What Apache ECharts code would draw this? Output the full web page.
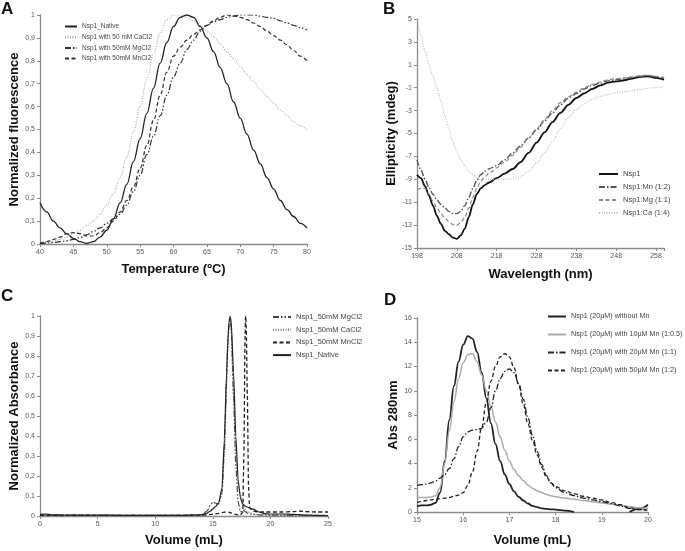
<!DOCTYPE html>
<html><head><meta charset="utf-8">
<script src="https://cdn.jsdelivr.net/npm/echarts@6/dist/echarts.min.js"></script>
<style>html,body{margin:0;padding:0;background:#fff}#c{width:685px;height:551px}</style>
</head><body><div id="c"></div>
<script>
// ---------- Panel A : thermal shift ----------
const A_temp = [40,41,42,43,44,45,46,47,48,49,50,51,52,53,54,55,56,57,58,59,60,61,62,63,64,65,66,67,68,69,70,71,72,73,74,75,76,77,78,79,80];
const A_native = [0.18,0.14,0.10,0.07,0.045,0.025,0.01,0.003,0.01,0.03,0.06,0.11,0.18,0.26,0.36,0.46,0.57,0.68,0.79,0.88,0.95,0.99,1.0,0.99,0.95,0.90,0.84,0.77,0.70,0.62,0.55,0.48,0.41,0.35,0.29,0.24,0.19,0.15,0.12,0.09,0.07];
const A_ca = [0.005,0.008,0.012,0.02,0.03,0.045,0.06,0.08,0.10,0.13,0.17,0.22,0.29,0.38,0.49,0.60,0.72,0.83,0.92,0.98,1.0,1.0,0.99,0.975,0.955,0.93,0.905,0.875,0.84,0.81,0.775,0.74,0.71,0.675,0.645,0.615,0.585,0.56,0.535,0.515,0.50];
const A_mg = [0.002,0.004,0.007,0.01,0.014,0.02,0.028,0.04,0.055,0.07,0.09,0.11,0.13,0.17,0.23,0.30,0.39,0.47,0.56,0.65,0.73,0.79,0.85,0.89,0.93,0.955,0.97,0.98,0.99,0.995,1.0,1.0,1.0,0.995,0.99,0.985,0.975,0.965,0.955,0.945,0.935];
const A_mn = [0.005,0.01,0.02,0.03,0.045,0.05,0.045,0.035,0.035,0.05,0.07,0.10,0.14,0.19,0.25,0.33,0.43,0.54,0.65,0.75,0.82,0.86,0.89,0.915,0.935,0.955,0.975,0.99,1.0,0.997,0.99,0.98,0.965,0.95,0.93,0.91,0.89,0.87,0.845,0.82,0.80];
const A_names = ['Nsp1_Native','Nsp1 with 50 mM CaCl2','Nsp1 with 50mM MgCl2','Nsp1 with 50mM MnCl2'];

// ---------- Panel B : CD spectra ----------
const B_wl = [198,199,200,201,202,203,204,205,206,207,208,209,210,211,212,213,214,215,216,218,220,222,224,226,228,230,232,234,236,238,240,242,244,246,248,250,252,254,256,258,260];
const B_nsp1 = [-8.6,-8.9,-9.6,-10.4,-11.3,-12.2,-12.9,-13.5,-13.8,-14.1,-14.2,-13.9,-13.3,-12.3,-11.2,-10.3,-9.8,-9.5,-9.3,-8.9,-8.5,-8.1,-7.5,-6.7,-5.8,-4.9,-4.0,-3.2,-2.5,-1.9,-1.5,-1.1,-0.8,-0.55,-0.45,-0.35,-0.2,-0.05,0.0,-0.15,-0.3];
const B_mn = [-7.3,-8.2,-9.0,-9.7,-10.3,-10.8,-11.2,-11.5,-11.8,-12.0,-12.0,-11.8,-11.3,-10.6,-9.8,-9.1,-8.6,-8.3,-8.1,-7.8,-7.3,-6.7,-6.1,-5.4,-4.7,-3.9,-3.2,-2.5,-1.9,-1.5,-1.1,-0.8,-0.6,-0.4,-0.3,-0.2,-0.1,0.0,0.05,-0.05,-0.2];
const B_mg = [-9.9,-9.8,-9.8,-10.3,-10.9,-11.5,-12.0,-12.4,-12.7,-12.95,-13.0,-12.8,-12.3,-11.5,-10.6,-9.8,-9.2,-8.8,-8.5,-8.0,-7.5,-6.9,-6.2,-5.4,-4.6,-3.8,-3.0,-2.3,-1.8,-1.4,-1.0,-0.7,-0.5,-0.3,-0.2,-0.15,-0.05,0.05,0.1,0.0,-0.1];
const B_ca = [5.0,3.6,2.2,1.0,0.0,-1.0,-2.2,-3.4,-4.6,-5.7,-6.6,-7.3,-7.8,-8.3,-8.6,-8.85,-8.95,-9.0,-9.0,-9.0,-9.0,-8.95,-8.8,-8.3,-7.6,-6.7,-5.7,-4.6,-3.6,-2.9,-2.4,-2.0,-1.75,-1.6,-1.45,-1.35,-1.25,-1.15,-1.05,-1.0,-0.95];
const B_names = ['Nsp1','Nsp1:Mn (1:2)','Nsp1:Mg (1:1)','Nsp1:Ca (1:4)'];

// ---------- Panel C : SEC normalized ----------
const C_vol = [0,0.5,1,2,4,6,8,10,12,13,14,14.5,14.8,15,15.2,15.5,15.8,16,16.2,16.3,16.4,16.5,16.6,16.8,17,17.2,17.4,17.6,17.7,17.8,17.85,17.9,18,18.1,18.2,18.5,19,19.5,20,21,22,22.5,23,24,25];
const C_mg = [0.005,0.006,0.005,0.004,0.004,0.003,0.003,0.003,0.003,0.004,0.006,0.025,0.055,0.07,0.065,0.06,0.12,0.33,0.68,0.85,0.95,0.99,0.93,0.6,0.25,0.07,0.02,0.03,0.028,0.022,0.02,0.018,0.015,0.012,0.01,0.008,0.006,0.005,0.004,0.004,0.003,0.003,0.003,0.002,0.002];
const C_ca = [0.004,0.005,0.004,0.004,0.003,0.003,0.003,0.003,0.003,0.004,0.005,0.012,0.025,0.04,0.05,0.06,0.11,0.3,0.65,0.83,0.94,0.98,0.92,0.6,0.3,0.15,0.11,0.06,0.045,0.035,0.03,0.028,0.022,0.02,0.017,0.01,0.006,0.005,0.004,0.004,0.003,0.003,0.003,0.003,0.003];
const C_mn = [0.003,0.003,0.003,0.003,0.003,0.003,0.003,0.003,0.003,0.004,0.004,0.006,0.008,0.009,0.011,0.013,0.017,0.019,0.02,0.02,0.019,0.017,0.015,0.011,0.008,0.006,0.005,0.02,0.3,0.9,1.0,0.95,0.6,0.15,0.04,0.025,0.02,0.02,0.02,0.02,0.022,0.025,0.022,0.02,0.02];
const C_native = [0.008,0.01,0.006,0.005,0.004,0.004,0.003,0.003,0.003,0.004,0.006,0.015,0.025,0.035,0.045,0.065,0.14,0.38,0.72,0.87,0.97,1.0,0.97,0.72,0.4,0.18,0.09,0.06,0.055,0.05,0.048,0.047,0.045,0.042,0.04,0.034,0.02,0.012,0.01,0.01,0.008,0.007,0.005,0.003,0.002];
const C_names = ['Nsp1_50mM MgCl2','Nsp1_50mM CaCl2','Nsp1_50mM MnCl2','Nsp1_Native'];

// ---------- Panel D : SEC with Mn titration ----------
const D_vol = [15.0,15.1,15.2,15.3,15.4,15.5,15.6,15.7,15.8,15.9,16.0,16.1,16.2,16.3,16.4,16.5,16.6,16.7,16.8,16.9,17.0,17.1,17.2,17.3,17.4,17.5,17.6,17.7,17.8,17.9,18.0,18.2,18.4,18.6,18.8,19.0,19.2,19.4,19.6,19.8,20.0];
const D_noMn = [0.45,0.55,0.55,0.6,0.75,1.6,4.2,7.6,10.4,12.4,13.8,14.5,14.3,13.2,11.5,9.4,7.3,5.6,4.2,3.1,2.3,1.7,1.25,0.95,0.7,0.5,0.4,0.3,0.25,0.22,0.2,0.12,0.0,null,null,null,null,null,0.0,0.25,0.6];
const D_mn10 = [1.2,1.2,1.2,1.22,1.35,2.0,4.0,6.7,9.1,11.0,12.3,13.0,13.05,12.4,11.3,10.0,8.7,7.4,6.2,5.1,4.2,3.5,3.0,2.6,2.2,1.95,1.75,1.6,1.45,1.35,1.25,1.15,1.05,0.95,0.85,0.75,0.65,0.55,0.45,0.35,0.3];
const D_mn20 = [2.2,2.25,2.3,2.4,2.55,2.8,3.1,3.6,4.4,5.4,6.2,6.6,6.75,6.8,6.9,7.4,8.6,10.0,11.0,11.6,11.8,11.5,10.6,9.3,7.8,6.3,5.0,3.9,3.0,2.4,2.0,1.6,1.35,1.15,1.0,0.85,0.7,0.5,0.3,0.2,0.2];
const D_mn50 = [0.8,0.85,0.95,1.0,1.05,1.1,1.15,1.2,1.3,1.4,1.6,2.2,3.3,5.0,7.0,9.0,10.8,12.0,12.8,13.05,12.8,11.9,10.5,8.9,7.3,5.9,4.7,3.7,2.9,2.4,2.1,1.75,1.5,1.3,1.15,1.0,0.8,0.6,0.35,0.2,0.15];
const D_names = ['Nsp1 (20μM) without Mn','Nsp1 (20μM) with 10μM Mn (1:0.5)','Nsp1 (20μM) with 20μM Mn (1:1)','Nsp1 (20μM) with 50μM Mn (1:2)'];

// ---------- build ----------
const FONT = '"Liberation Sans", Arial, sans-serif';
const pairs = (xs, ys) => xs.map((x, i) => [x, ys[i]]);
const comma = v => { const r = Math.round(v * 10) / 10; return (r === 0 || r === 1) ? String(r) : r.toFixed(1).replace('.', ','); };
const DASHDOT = [6, 2, 1.5, 2];
const DASHDOTDOT = [6, 2, 1.5, 2, 1.5, 2];
const DASHED = [4, 2.5];
const DOTTED = [1, 1.5];

function axis(idx, o) {
  return Object.assign({
    type: 'value', gridIndex: idx, nameLocation: 'middle',
    nameTextStyle: { fontFamily: FONT, fontWeight: 'bold', fontSize: 13, color: '#111' },
    axisLine: { show: true, onZero: false, lineStyle: { color: '#8a8a8a', width: 1.3 } },
    axisTick: { show: true, length: 3, lineStyle: { color: '#8a8a8a' } },
    axisLabel: { fontFamily: FONT, fontSize: 7, color: '#555', margin: 5 },
    splitLine: { show: false }
  }, o);
}
function line(name, xi, xs, ys, color, width, type, smooth) {
  return {
    type: 'line', name: name, xAxisIndex: xi, yAxisIndex: xi,
    data: pairs(xs, ys), showSymbol: false, symbol: 'none',
    smooth: smooth, smoothMonotone: 'x', connectNulls: false,
    lineStyle: { color: color, width: width, type: type },
    itemStyle: { color: color }, emphasis: { disabled: true }
  };
}
function legend(names, left, top, iw, gap, fs) {
  return {
    data: names, left: left, top: top, orient: 'vertical', padding: 0,
    itemWidth: iw, itemHeight: 8, itemGap: gap, selectedMode: false,
    itemStyle: { opacity: 0 },
    textStyle: { fontFamily: FONT, fontSize: fs, color: '#444' }
  };
}

const option = {
  animation: false,
  backgroundColor: '#fff',
  grid: [
    { left: 40, top: 15, width: 267, height: 229 },
    { left: 417, top: 19, width: 247, height: 229 },
    { left: 40, top: 316, width: 288, height: 200 },
    { left: 417, top: 318, width: 231, height: 194 }
  ],
  xAxis: [
    axis(0, { min: 40, max: 80, interval: 5, name: 'Temperature (ºC)', nameGap: 19 }),
    axis(1, { min: 198, max: 260, interval: 10, name: 'Wavelength (nm)', nameGap: 20,
      axisLabel: { fontFamily: FONT, fontSize: 7, color: '#555', margin: 5, formatter: v => ((v - 198) % 10 === 0 ? String(v) : '') } }),
    axis(2, { min: 0, max: 25, interval: 5, name: 'Volume (mL)', nameGap: 18 }),
    axis(3, { min: 15, max: 20, interval: 1, name: 'Volume (mL)', nameGap: 22 })
  ],
  yAxis: [
    axis(0, { min: 0, max: 1, interval: 0.1, name: 'Normalized fluorescence', nameGap: 19,
      axisLabel: { fontFamily: FONT, fontSize: 7, color: '#555', margin: 5, formatter: comma } }),
    axis(1, { min: -15, max: 5, interval: 2, name: 'Ellipticity (mdeg)', nameGap: 19 }),
    axis(2, { min: 0, max: 1, interval: 0.1, name: 'Normalized Absorbance', nameGap: 19,
      axisLabel: { fontFamily: FONT, fontSize: 7, color: '#555', margin: 5, formatter: comma } }),
    axis(3, { min: 0, max: 16, interval: 2, name: 'Abs 280nm', nameGap: 15 })
  ],
  legend: [
    legend(A_names, 64, 23, 12, 3.7, 6.5),
    legend(B_names, 598, 170, 19, 5, 7.5),
    legend(C_names, 272, 313, 18, 4.7, 7.5),
    legend(D_names, 547, 313, 18, 11, 7.2)
  ],
  graphic: [
    { type: 'text', left: 1, top: 1, style: { text: 'A', font: 'bold 17px "Liberation Sans", Arial', fill: '#111' } },
    { type: 'text', left: 383, top: 1, style: { text: 'B', font: 'bold 17px "Liberation Sans", Arial', fill: '#111' } },
    { type: 'text', left: 1, top: 288, style: { text: 'C', font: 'bold 17px "Liberation Sans", Arial', fill: '#111' } },
    { type: 'text', left: 384, top: 292, style: { text: 'D', font: 'bold 17px "Liberation Sans", Arial', fill: '#111' } }
  ],
  series: [
    line(A_names[0], 0, A_temp, A_native, '#222', 1.3, 'solid', 0.4),
    line(A_names[1], 0, A_temp, A_ca, '#999', 1, DOTTED, 0.4),
    line(A_names[2], 0, A_temp, A_mg, '#333', 1.2, DASHDOTDOT, 0.4),
    line(A_names[3], 0, A_temp, A_mn, '#333', 1.2, DASHED, 0.4),

    line(B_names[0], 1, B_wl, B_nsp1, '#111', 1.8, 'solid', 0.3),
    line(B_names[1], 1, B_wl, B_mn, '#555', 1.4, DASHDOT, 0.3),
    line(B_names[2], 1, B_wl, B_mg, '#888', 1.2, DASHED, 0.3),
    line(B_names[3], 1, B_wl, B_ca, '#bbb', 1.2, DOTTED, 0.3),

    line(C_names[0], 2, C_vol, C_mg, '#444', 1.2, DASHDOTDOT, 0.2),
    line(C_names[1], 2, C_vol, C_ca, '#777', 1.1, DOTTED, 0.2),
    line(C_names[2], 2, C_vol, C_mn, '#222', 1.3, DASHED, 0.2),
    line(C_names[3], 2, C_vol, C_native, '#222', 1.2, 'solid', 0.2),

    line(D_names[0], 3, D_vol, D_noMn, '#222', 1.8, 'solid', 0.4),
    line(D_names[1], 3, D_vol, D_mn10, '#aaa', 1.5, 'solid', 0.4),
    line(D_names[2], 3, D_vol, D_mn20, '#222', 1.3, DASHDOT, 0.4),
    line(D_names[3], 3, D_vol, D_mn50, '#222', 1.3, DASHED, 0.4)
  ]
};
const chart = echarts.init(document.getElementById('c'), null, { renderer: 'canvas' });
chart.setOption(option);
</script>
</body></html>
